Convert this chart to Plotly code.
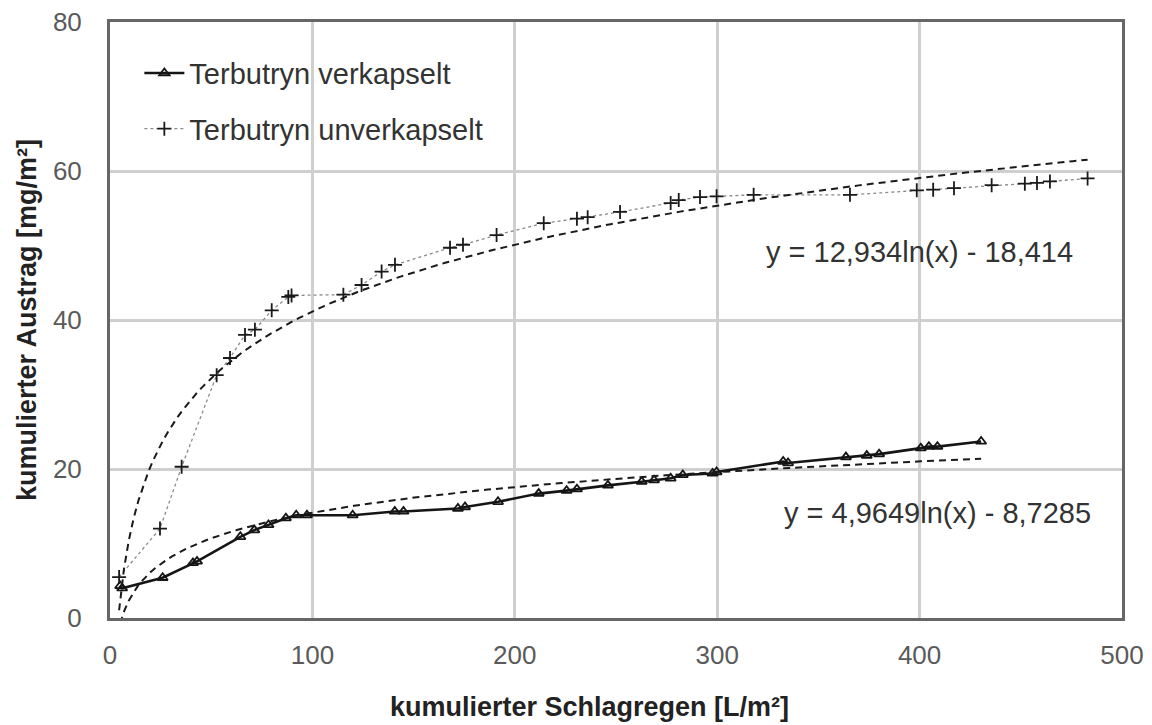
import numpy as np
import plotly.graph_objects as go

# --- data ---
x_unverk = [4.5, 24.7, 35.4, 52.7, 59.3, 66.7, 71.6, 79.9, 88.1, 89.7, 115.3, 124.3, 134.2,
            140.8, 168.0, 174.4, 191.0, 214.3, 230.7, 236.0, 252.0, 277.0, 281.0, 291.5,
            299.7, 318.0, 365.6, 398.6, 406.7, 417.0, 435.6, 452.0, 458.0, 464.4, 483.0]
y_unverk = [5.5, 12.0, 20.3, 32.6, 34.9, 38.0, 38.7, 41.3, 43.1, 43.3, 43.4, 44.7, 46.5,
            47.4, 49.7, 50.1, 51.4, 53.0, 53.6, 53.8, 54.5, 55.7, 56.1, 56.5,
            56.6, 56.8, 56.8, 57.4, 57.5, 57.7, 58.1, 58.3, 58.4, 58.6, 59.0]

x_verk = [5.0, 6.0, 26.0, 41.0, 43.0, 64.4, 71.3, 78.3, 86.9, 92.0, 97.3, 119.9, 140.7,
          145.0, 171.9, 175.4, 191.7, 211.8, 225.6, 230.7, 246.0, 262.7, 268.8, 277.0,
          283.0, 297.7, 299.7, 332.6, 335.0, 363.6, 373.9, 380.0, 400.6, 404.6, 408.8, 430.4]
y_verk = [4.3, 4.0, 5.4, 7.4, 7.6, 10.9, 11.8, 12.5, 13.4, 13.8, 13.8, 13.8, 14.3,
          14.3, 14.7, 14.9, 15.6, 16.7, 17.1, 17.3, 17.8, 18.3, 18.5, 18.75,
          19.2, 19.4, 19.6, 21.0, 20.8, 21.6, 21.8, 22.0, 22.8, 23.0, 23.0, 23.7]

# logarithmic trendline coefficients as printed in the chart
a_unverk, b_unverk = 12.934, -18.414
a_verk, b_verk = 4.9649, -8.7285
label_unverk = "y = 12,934ln(x) - 18,414"
label_verk = "y = 4,9649ln(x) - 8,7285"

x_title = "kumulierter Schlagregen [L/m²]"
y_title = "kumulierter Austrag [mg/m²]"

x_ticks = [0, 100, 200, 300, 400, 500]
y_ticks = [0, 20, 40, 60, 80]

xt_unverk = np.linspace(min(x_unverk), max(x_unverk), 200)
yt_unverk = a_unverk * np.log(xt_unverk) + b_unverk
xt_verk = np.linspace(min(x_verk), max(x_verk), 200)
yt_verk = a_verk * np.log(xt_verk) + b_verk

FONT = "Liberation Sans, Arial, sans-serif"

fig = go.Figure()

fig.add_trace(go.Scatter(
    x=x_verk, y=y_verk, mode="lines+markers", name="Terbutryn verkapselt",
    line=dict(color="#151515", width=2.6),
    marker=dict(symbol="triangle-up-open", size=9, color="#151515", line=dict(width=1.8)),
    legendgroup="a",
))
fig.add_trace(go.Scatter(
    x=x_unverk, y=y_unverk, mode="lines+markers", name="Terbutryn unverkapselt",
    line=dict(color="#8a8a8a", width=1.3, dash="dot"),
    marker=dict(symbol="cross-thin", size=10, color="#1a1a1a", line=dict(width=1.8, color="#1a1a1a")),
    legendgroup="b",
))
fig.add_trace(go.Scatter(
    x=xt_unverk, y=yt_unverk, mode="lines", showlegend=False,
    line=dict(color="#1a1a1a", width=2, dash="7px,5px"), hoverinfo="skip",
))
fig.add_trace(go.Scatter(
    x=xt_verk, y=yt_verk, mode="lines", showlegend=False,
    line=dict(color="#1a1a1a", width=2, dash="7px,5px"), hoverinfo="skip",
))

fig.add_annotation(x=400, y=49.1, xref="x", yref="y", text=label_unverk, showarrow=False,
                   font=dict(family=FONT, size=29, color="#333333"))
fig.add_annotation(x=409, y=14.1, xref="x", yref="y", text=label_verk, showarrow=False,
                   font=dict(family=FONT, size=29, color="#333333"))
fig.add_annotation(x=0.474, y=0, xref="paper", yref="paper", yshift=-89,
                   xanchor="center", yanchor="middle", showarrow=False,
                   text="<b>" + x_title + "</b>",
                   font=dict(family=FONT, size=27, color="#222222"))

fig.update_layout(
    width=1152, height=725,
    margin=dict(l=102, r=38, t=14, b=115, autoexpand=False),
    paper_bgcolor="white", plot_bgcolor="white",
    font=dict(family=FONT, color="#555555"),
    showlegend=True,
    legend=dict(x=0.029, y=0.957, xanchor="left", yanchor="top",
                bgcolor="rgba(0,0,0,0)", font=dict(family=FONT, size=29, color="#333333"),
                traceorder="grouped", tracegroupgap=15, itemwidth=40),
)
fig.update_xaxes(
    range=[0, 500], tickvals=x_ticks, ticktext=[str(v) for v in x_ticks],
    showgrid=True, gridcolor="#cfcfcf", gridwidth=2.5,
    showline=True, linecolor="#666666", linewidth=3, mirror=True,
    ticks="", tickfont=dict(family=FONT, size=26, color="#5a5a5a"), ticklabelstandoff=12,
    ticklabeloverflow="allow", zeroline=False, automargin=False,
)
fig.update_yaxes(
    range=[0, 80], tickvals=y_ticks, ticktext=[str(v) for v in y_ticks],
    showgrid=True, gridcolor="#cfcfcf", gridwidth=2.5,
    showline=True, linecolor="#666666", linewidth=3, mirror=True,
    ticks="", tickfont=dict(family=FONT, size=26, color="#5a5a5a"), ticklabelstandoff=20,
    ticklabeloverflow="allow", zeroline=False, automargin=False,
    title=dict(text="<b>" + y_title + "</b>", standoff=9,
               font=dict(family=FONT, size=27, color="#222222")),
)

fig.write_html("out.html")
